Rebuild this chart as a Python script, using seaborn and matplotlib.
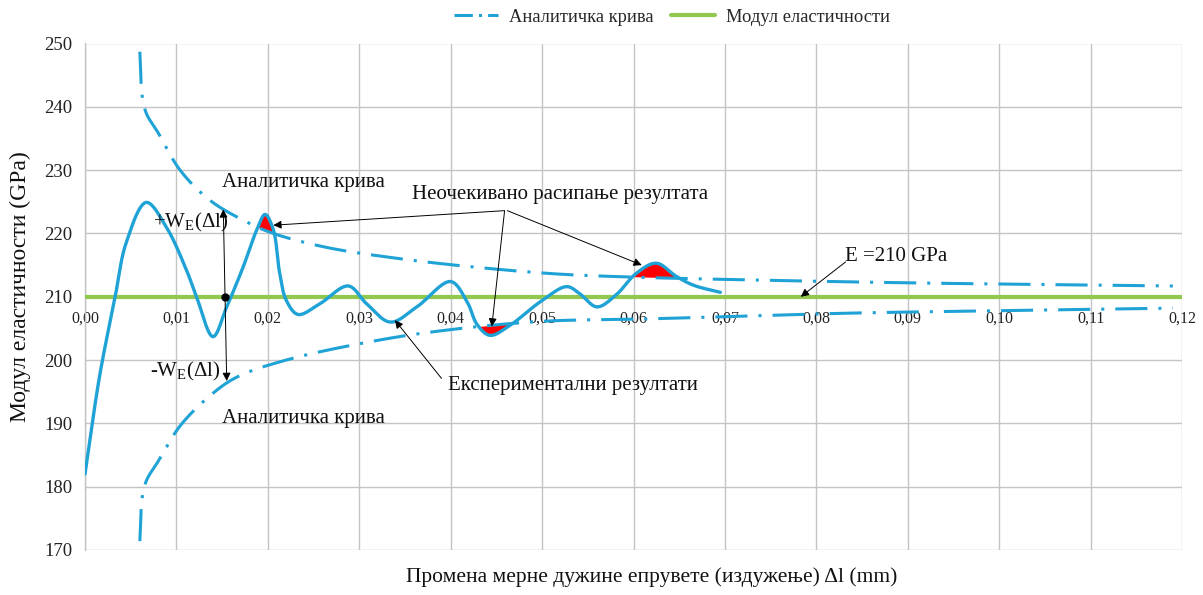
import numpy as np
import pandas as pd
import matplotlib
matplotlib.use("Agg")
import matplotlib.pyplot as plt
import seaborn as sns
from matplotlib.lines import Line2D

# ---------------- data ----------------
exp_x = [0.0000, 0.0016, 0.0033, 0.0045, 0.0067, 0.0089, 0.0111, 0.0122,
         0.0140, 0.0155, 0.0173, 0.0188, 0.0197, 0.0206, 0.0213, 0.0220, 0.0233,
         0.0257, 0.0288, 0.0308, 0.0334, 0.0363, 0.0400, 0.0418, 0.0429, 0.0443,
         0.0465, 0.0498, 0.0527, 0.0541, 0.0560, 0.0581, 0.0603, 0.0625, 0.0647,
         0.0666, 0.0695]
exp_y = [182.0, 197.5, 210.0, 218.5, 224.9, 221.0, 214.2, 210.0,
         203.7, 208.4, 214.7, 220.6, 223.0, 220.6, 213.7, 209.5, 207.2,
         208.9, 211.7, 208.9, 206.0, 208.4, 212.4, 209.2, 205.6, 203.9,
         205.5, 209.2, 211.6, 210.5, 208.4, 210.3, 213.7, 215.3, 213.2,
         211.8, 210.7]

up_x = [0.0060, 0.0061, 0.0062, 0.0067, 0.0080, 0.0104, 0.0137, 0.0177, 0.0206,
        0.0264, 0.0345, 0.0425, 0.0516, 0.0600, 0.0713, 0.0900, 0.1190]
up_y = [248.7, 245.5, 242.3, 239.0, 235.9, 230.0, 225.2, 221.8, 220.0,
        217.8, 216.0, 214.7, 213.6, 213.1, 212.7, 212.2, 211.7]

lo_x = [0.0060, 0.0061, 0.0062, 0.0067, 0.0080, 0.0104, 0.0137, 0.0166, 0.0220,
        0.0312, 0.0388, 0.0498, 0.0614, 0.0713, 0.0833, 0.1000, 0.1190]
lo_y = [171.4, 174.5, 177.7, 180.9, 184.0, 189.6, 194.4, 197.3, 200.0,
        202.9, 204.6, 206.1, 206.5, 206.9, 207.4, 207.8, 208.2]

e_x = [0.0, 0.12]
e_y = [210.0, 210.0]

x_ticks = [0.00, 0.01, 0.02, 0.03, 0.04, 0.05, 0.06, 0.07, 0.08, 0.09, 0.10, 0.11, 0.12]
x_tick_labels = ["0,00", "0,01", "0,02", "0,03", "0,04", "0,05", "0,06",
                 "0,07", "0,08", "0,09", "0,10", "0,11", "0,12"]
y_ticks = [170, 180, 190, 200, 210, 220, 230, 240, 250]

legend_labels = ["Аналитичка крива", "Модул еластичности"]

# ---------------- style ----------------
sns.set_theme(style="white")
plt.rcParams["font.family"] = ["Liberation Serif", "DejaVu Serif"]
plt.rcParams["mathtext.fontset"] = "custom"
plt.rcParams["mathtext.rm"] = "Liberation Serif"
plt.rcParams["mathtext.it"] = "Liberation Serif:italic"

BLUE = "#1fa3d6"
GREEN = "#92c850"
RED = "#ff0000"
GRID = "#c4c4c4"
DASHDOT = (0, (10.5, 3.6, 1.0, 3.6))


def smooth(xs, ys, n=24):
    """Centripetal Catmull-Rom rendering of a smoothed line (like a spreadsheet 'smooth line')."""
    xs = np.asarray(xs, float)
    ys = np.asarray(ys, float)
    sx, sy = 1.0 / 0.12 * 1100.0, 6.33
    P = np.column_stack([xs * sx, ys * sy])
    P = np.vstack([2 * P[0] - P[1], P, 2 * P[-1] - P[-2]])
    out = []
    for i in range(1, len(P) - 2):
        p0, p1, p2, p3 = P[i - 1], P[i], P[i + 1], P[i + 2]
        t0 = 0.0
        t1 = t0 + max(np.linalg.norm(p1 - p0), 1e-6) ** 0.5
        t2 = t1 + max(np.linalg.norm(p2 - p1), 1e-6) ** 0.5
        t3 = t2 + max(np.linalg.norm(p3 - p2), 1e-6) ** 0.5
        t = np.linspace(t1, t2, n, endpoint=False)[:, None]
        a1 = (t1 - t) / (t1 - t0) * p0 + (t - t0) / (t1 - t0) * p1
        a2 = (t2 - t) / (t2 - t1) * p1 + (t - t1) / (t2 - t1) * p2
        a3 = (t3 - t) / (t3 - t2) * p2 + (t - t2) / (t3 - t2) * p3
        b1 = (t2 - t) / (t2 - t0) * a1 + (t - t0) / (t2 - t0) * a2
        b2 = (t3 - t) / (t3 - t1) * a2 + (t - t1) / (t3 - t1) * a3
        c = (t2 - t) / (t2 - t1) * b1 + (t - t1) / (t2 - t1) * b2
        out.append(c)
    out.append(P[-2][None, :])
    C = np.vstack(out)
    return C[:, 0] / sx, C[:, 1] / sy


sx_e, sy_e = smooth(exp_x, exp_y)
sx_u, sy_u = smooth(up_x, up_y)
sx_l, sy_l = smooth(lo_x, lo_y)

df_exp = pd.DataFrame({"x": sx_e, "y": sy_e})
df_up = pd.DataFrame({"x": sx_u, "y": sy_u})
df_lo = pd.DataFrame({"x": sx_l, "y": sy_l})
df_e = pd.DataFrame({"x": e_x, "y": e_y})

fig = plt.figure(figsize=(12.03, 5.95), dpi=100)
ax = fig.add_axes([85 / 1203, 1 - 550 / 595, 1097 / 1203, 506.5 / 595])

ax.set_xlim(0, 0.12)
ax.set_ylim(170, 250)

# grid
ax.set_xticks(x_ticks)
ax.set_yticks(y_ticks)
ax.grid(True, color=GRID, lw=1.0, zorder=0)
ax.set_axisbelow(True)

# red "unexpected scatter" areas between experimental and analytic curves
g = np.linspace(0.0070, 0.0695, 4000)
ge = np.interp(g, sx_e, sy_e)
gu = np.interp(g, sx_u, sy_u)
gl = np.interp(g, sx_l, sy_l)
ax.fill_between(g, ge, gu, where=ge > gu, interpolate=True, color=RED, lw=0, zorder=2)
ax.fill_between(g, ge, gl, where=ge < gl, interpolate=True, color=RED, lw=0, zorder=2)

# lines
sns.lineplot(data=df_e, x="x", y="y", ax=ax, color=GREEN, lw=3.0, sort=False,
             estimator=None, zorder=3)
sns.lineplot(data=df_up, x="x", y="y", ax=ax, color=BLUE, lw=2.2, sort=False,
             estimator=None, linestyle=DASHDOT, zorder=4)
sns.lineplot(data=df_lo, x="x", y="y", ax=ax, color=BLUE, lw=2.2, sort=False,
             estimator=None, linestyle=DASHDOT, zorder=4)
sns.lineplot(data=df_exp, x="x", y="y", ax=ax, color=BLUE, lw=2.4, sort=False,
             estimator=None, zorder=5)

# axes styling (spreadsheet look: x axis crosses at 210)
for s in ["top", "right"]:
    ax.spines[s].set_visible(False)
ax.spines["left"].set_color(GRID)
ax.spines["left"].set_linewidth(1.0)
ax.spines["bottom"].set_position(("data", 210))
ax.spines["bottom"].set_visible(False)
ax.set_xticklabels(x_tick_labels, fontsize=11.5)
ax.set_yticklabels([str(v) for v in y_ticks], fontsize=13.5)
ax.tick_params(axis="x", length=0, pad=10, labelcolor="#222222")
ax.tick_params(axis="y", length=5, width=1, color=GRID, pad=4, labelcolor="#222222")

ax.set_xlabel("Промена мерне дужине епрувете (издужење) \u0394l (mm)", fontsize=15.5,
              color="#111111")
ax.xaxis.set_label_coords(0.517, -0.034)
ax.set_ylabel("Модул еластичности (GPa)", fontsize=17, color="#111111")
ax.yaxis.set_label_coords(-0.049, 0.52)

# annotations
TXT = dict(fontsize=15, color="#111111", va="center", ha="left", zorder=6)
ax.text(0.01495, 228.0, "Аналитичка крива", **TXT)
ax.text(0.01495, 190.8, "Аналитичка крива", **TXT)
ax.text(0.00744, 221.8, r"+W$_{\mathrm{E}}$(Δl)", **TXT)
ax.text(0.0071, 198.2, r"-W$_{\mathrm{E}}$(Δl)", **TXT)
ax.text(0.03574, 226.1, "Неочекивано расипање резултата", **TXT)
ax.text(0.03974, 196.0, "Експериментални резултати", **TXT)
ax.text(0.0831, 216.3, "E =210 GPa", **TXT)

AP = dict(arrowstyle="-|>", color="black", lw=0.7, mutation_scale=12, shrinkA=0, shrinkB=0)
AP2 = dict(arrowstyle="<|-|>", color="black", lw=0.7, mutation_scale=12, shrinkA=0, shrinkB=0)
ax.annotate("", xy=(0.01513, 223.8), xytext=(0.0155, 196.7), arrowprops=AP2, zorder=6)
ax.plot([0.0153], [210.0], "o", color="black", ms=5, zorder=7)
ax.annotate("", xy=(0.0206, 221.3), xytext=(0.0459, 223.6), arrowprops=AP, zorder=6)
ax.annotate("", xy=(0.0445, 205.3), xytext=(0.0459, 223.6), arrowprops=AP, zorder=6)
ax.annotate("", xy=(0.0609, 215.0), xytext=(0.0462, 223.6), arrowprops=AP, zorder=6)
ax.annotate("", xy=(0.0339, 206.3), xytext=(0.0390, 197.1), arrowprops=AP, zorder=6)
ax.annotate("", xy=(0.0783, 210.0), xytext=(0.0832, 215.5), arrowprops=AP, zorder=6)

# legend
handles = [Line2D([0], [0], color=BLUE, lw=2.2, linestyle=(0, (6, 2, 1, 2))),
           Line2D([0], [0], color=GREEN, lw=3.0)]
fig.legend(handles, legend_labels, loc="center", bbox_to_anchor=(672 / 1203, 1 - 17 / 595),
           ncol=2, frameon=False, fontsize=13.3, handlelength=2.4, handletextpad=0.6,
           columnspacing=0.9)

fig.savefig("out.png", dpi=100)
